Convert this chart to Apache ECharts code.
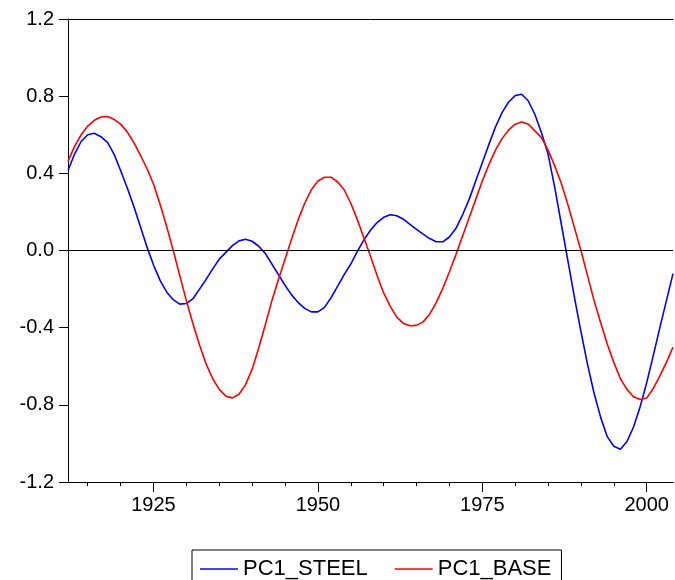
<!DOCTYPE html>
<html>
<head>
<meta charset="utf-8">
<script src="https://cdn.jsdelivr.net/npm/echarts@6/dist/echarts.min.js"></script>
<style>
  html, body { margin: 0; padding: 0; background: #fff; }
  #chart { width: 675px; height: 580px; }
</style>
</head>
<body>
<div id="chart"></div>
<script>
  // annual observations, 1912 - 2004
  var firstYear = 1912
  var lastYear = 2004
  var years = []
  for (var y = firstYear; y <= lastYear; y++) years.push(y)

  var pc1Steel = [
    0.415, 0.50, 0.565, 0.60, 0.608, 0.59, 0.56, 0.50, 0.415, 0.325,
    0.23, 0.125, 0.02, -0.075, -0.155, -0.215, -0.255, -0.278, -0.275, -0.25,
    -0.20, -0.15, -0.095, -0.045, -0.01, 0.025, 0.05, 0.058, 0.048, 0.022,
    -0.015, -0.07, -0.125, -0.18, -0.23, -0.27, -0.30, -0.318, -0.318, -0.295,
    -0.245, -0.185, -0.125, -0.07, -0.005, 0.055, 0.105, 0.145, 0.172, 0.185,
    0.18, 0.162, 0.135, 0.11, 0.085, 0.062, 0.045, 0.045, 0.07, 0.115,
    0.185, 0.265, 0.36, 0.455, 0.55, 0.64, 0.715, 0.77, 0.803, 0.81,
    0.775, 0.705, 0.61, 0.50, 0.33, 0.14, -0.05, -0.24, -0.42, -0.59,
    -0.74, -0.865, -0.965, -1.015, -1.03, -0.99, -0.915, -0.81, -0.685, -0.545,
    -0.40, -0.26, -0.12
  ]
  var pc1Base = [
    0.463, 0.54, 0.60, 0.645, 0.675, 0.692, 0.695, 0.68, 0.655, 0.615,
    0.56, 0.495, 0.425, 0.345, 0.24, 0.125, 0.0, -0.13, -0.26, -0.38,
    -0.49, -0.588, -0.665, -0.72, -0.755, -0.764, -0.745, -0.695, -0.615, -0.505,
    -0.385, -0.26, -0.15, -0.045, 0.06, 0.16, 0.245, 0.315, 0.36, 0.38,
    0.38, 0.355, 0.315, 0.245, 0.16, 0.065, -0.03, -0.13, -0.22, -0.29,
    -0.345, -0.378, -0.39, -0.388, -0.37, -0.33, -0.27, -0.195, -0.11, -0.02,
    0.075, 0.17, 0.265, 0.36, 0.445, 0.52, 0.58, 0.625, 0.655, 0.666,
    0.655, 0.62, 0.585, 0.52, 0.44, 0.35, 0.24, 0.12, 0.0, -0.13,
    -0.26, -0.375, -0.485, -0.58, -0.665, -0.72, -0.758, -0.772, -0.765, -0.715,
    -0.65, -0.58, -0.50
  ]

  var majorTicks = [1925, 1950, 1975, 2000]
  var minorTicks = [1915, 1920, 1925, 1930, 1935, 1940, 1945, 1950, 1955, 1960,
    1965, 1970, 1975, 1980, 1985, 1990, 1995, 2000]
  var yTicks = [-1.2, -0.8, -0.4, 0.0, 0.4, 0.8, 1.2]

  function pairs (vals) {
    return years.map(function (yr, i) { return [yr, vals[i]] })
  }

  var font = 'Liberation Sans, Arial, sans-serif'
  var chart = echarts.init(document.getElementById('chart'), null, { renderer: 'canvas' })

  var baseX = {
    type: 'value',
    min: firstYear,
    max: lastYear,
    gridIndex: 0,
    splitLine: { show: false },
    axisLine: { show: true, onZero: false, lineStyle: { color: '#000', width: 1 } }
  }

  var option = {
    animation: false,
    backgroundColor: '#fff',
    grid: { left: 68, right: 2, top: 19, bottom: 98, containLabel: false },
    xAxis: [
      Object.assign({}, baseX, {
        position: 'bottom',
        axisTick: { show: true, length: 4, customValues: minorTicks, lineStyle: { color: '#000' } },
        axisLabel: { show: false }
      }),
      Object.assign({}, baseX, {
        position: 'bottom',
        axisTick: { show: true, length: 10, customValues: majorTicks, lineStyle: { color: '#000' } },
        axisLabel: {
          show: true,
          customValues: majorTicks,
          margin: 13,
          color: '#000',
          fontSize: 20,
          fontFamily: font,
          formatter: function (v) { return String(v) }
        }
      }),
      Object.assign({}, baseX, {
        position: 'top',
        axisTick: { show: false },
        axisLabel: { show: false }
      })
    ],
    yAxis: {
      type: 'value',
      min: -1.2,
      max: 1.2,
      interval: 0.4,
      splitLine: { show: false },
      axisLine: { show: true, onZero: false, lineStyle: { color: '#000', width: 1 } },
      axisTick: { show: true, length: 9, customValues: yTicks, lineStyle: { color: '#000' } },
      axisLabel: {
        customValues: yTicks,
        margin: 14,
        color: '#000',
        fontSize: 20,
        fontFamily: font,
        formatter: function (v) { return Number(v).toFixed(1) }
      }
    },
    legend: {
      left: 192,
      top: 550,
      padding: [8, 10, 14, 8],
      icon: 'rect',
      itemWidth: 38,
      itemHeight: 1.6,
      itemGap: 27,
      borderColor: '#000',
      borderWidth: 1,
      textStyle: { color: '#000', fontSize: 22, fontFamily: font },
      data: ['PC1_STEEL', 'PC1_BASE']
    },
    series: [
      {
        name: 'PC1_STEEL',
        type: 'line',
        xAxisIndex: 0,
        symbol: 'none',
        color: '#0000ff',
        lineStyle: { color: '#0000ff', width: 1.6 },
        data: pairs(pc1Steel),
        markLine: {
          silent: true,
          symbol: 'none',
          label: { show: false },
          lineStyle: { color: '#000', width: 1, type: 'solid' },
          data: [{ yAxis: 0 }]
        },
        z: 3
      },
      {
        name: 'PC1_BASE',
        type: 'line',
        xAxisIndex: 0,
        symbol: 'none',
        color: '#ff0000',
        lineStyle: { color: '#ff0000', width: 1.6 },
        data: pairs(pc1Base),
        z: 4
      }
    ]
  }
  chart.setOption(option)
</script>
</body>
</html>
